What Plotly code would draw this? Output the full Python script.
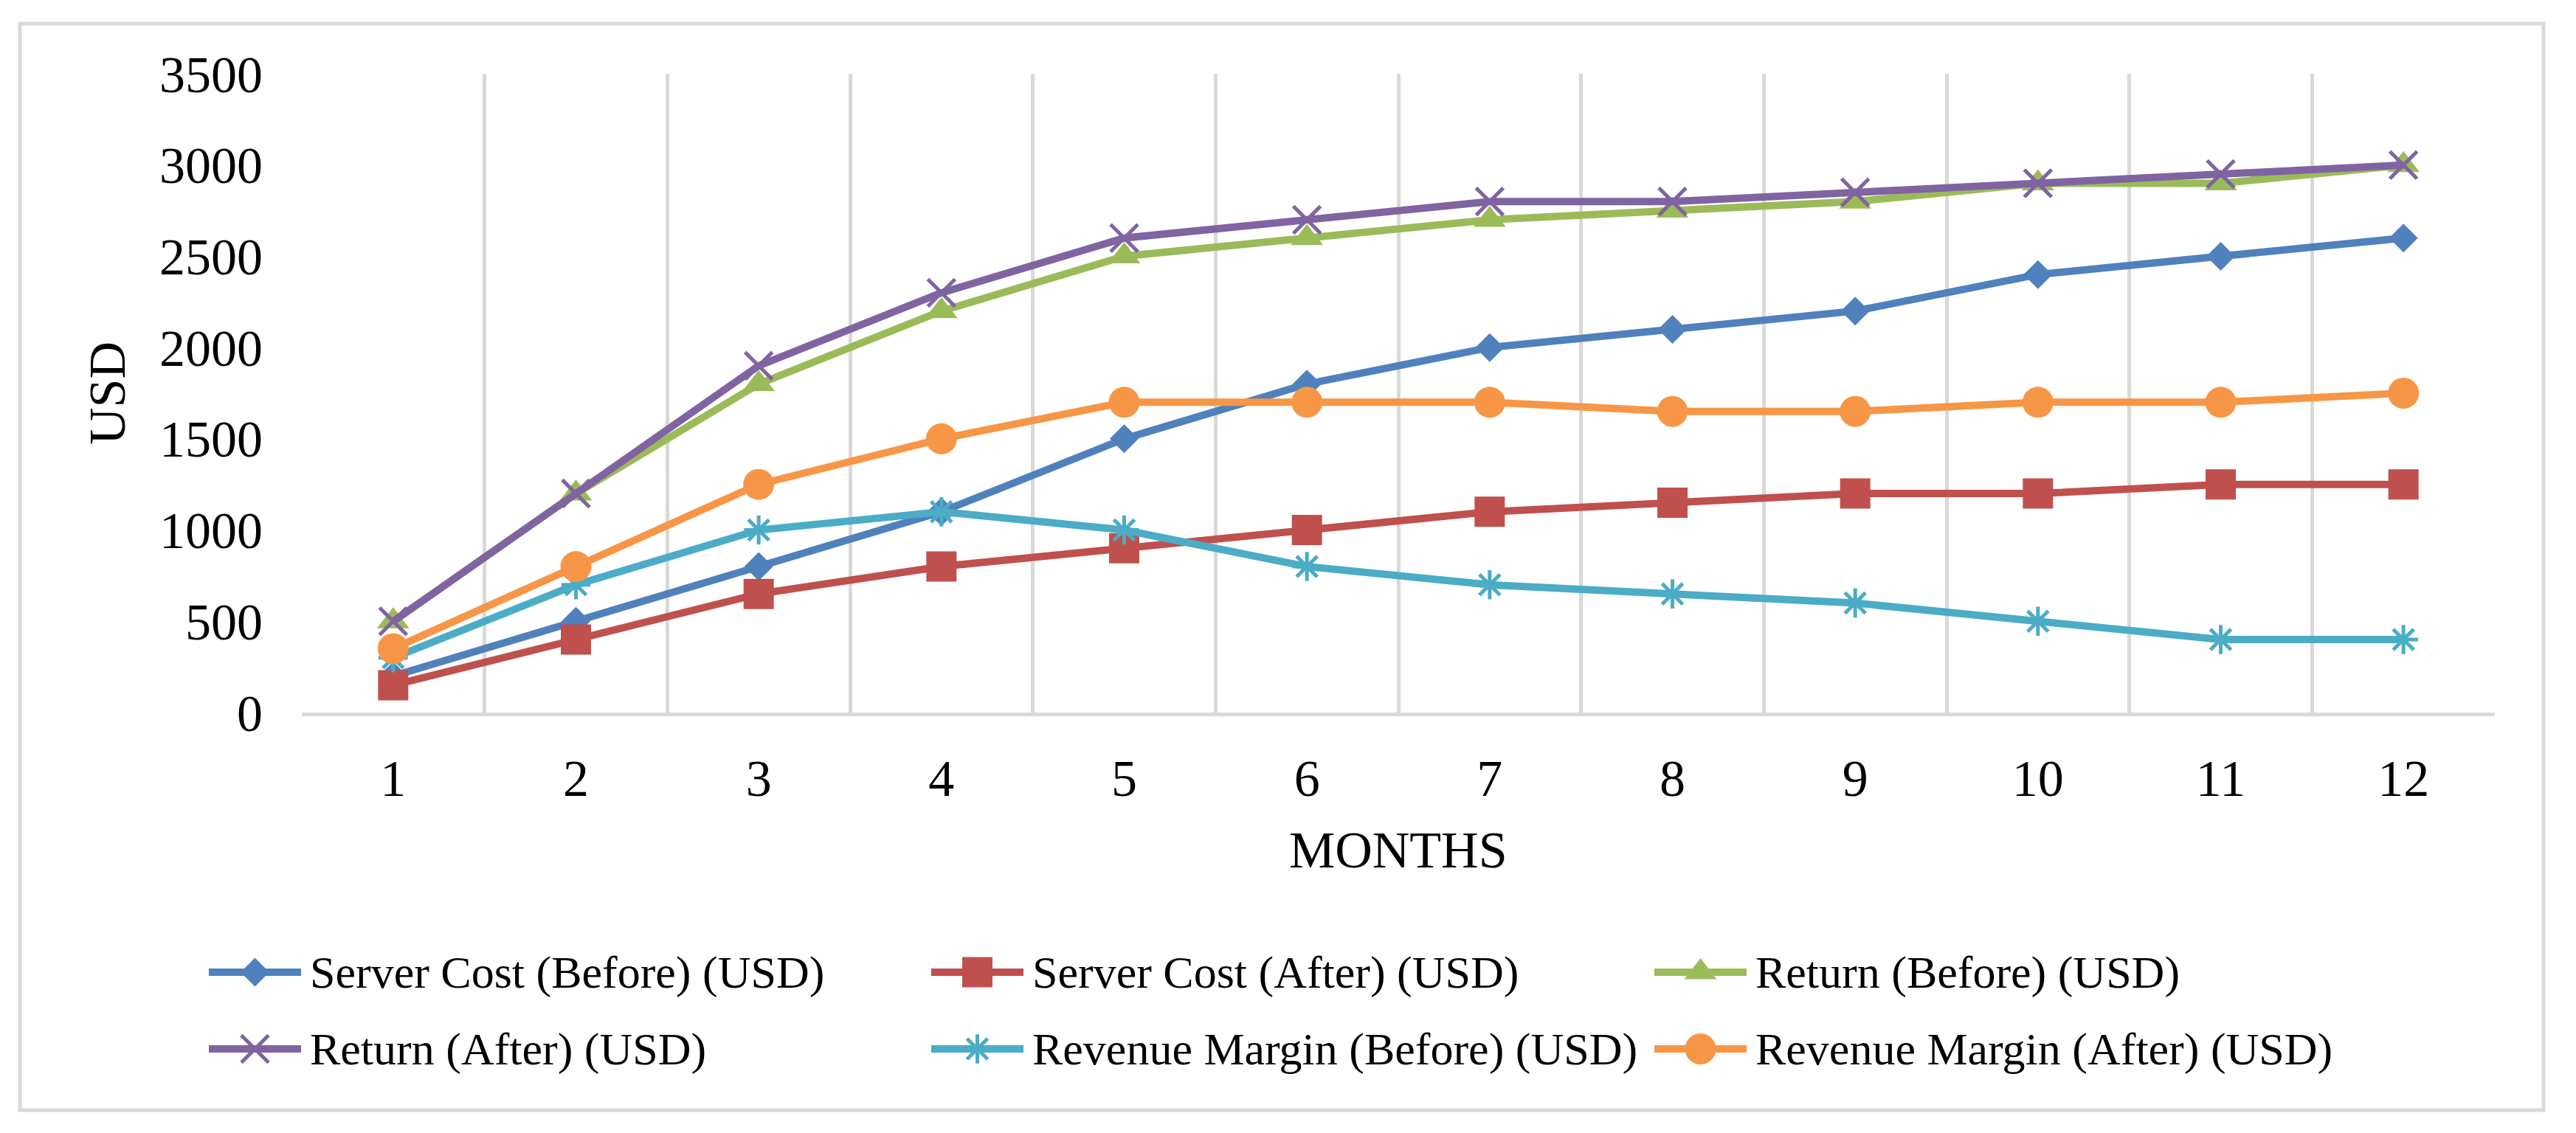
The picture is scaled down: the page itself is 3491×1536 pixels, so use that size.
import plotly.graph_objects as go

# ---------------- data ----------------
months = [1, 2, 3, 4, 5, 6, 7, 8, 9, 10, 11, 12]
month_labels = [str(m) for m in months]
server_cost_before = [200, 500, 800, 1100, 1500, 1800, 2000, 2100, 2200, 2400, 2500, 2600]
server_cost_after = [150, 400, 650, 800, 900, 1000, 1100, 1150, 1200, 1200, 1250, 1250]
return_before = [500, 1200, 1800, 2200, 2500, 2600, 2700, 2750, 2800, 2900, 2900, 3000]
return_after = [500, 1200, 1900, 2300, 2600, 2700, 2800, 2800, 2850, 2900, 2950, 3000]
revenue_margin_before = [300, 700, 1000, 1100, 1000, 800, 700, 650, 600, 500, 400, 400]
revenue_margin_after = [350, 800, 1250, 1500, 1700, 1700, 1700, 1650, 1650, 1700, 1700, 1750]
y_tick_values = [0, 500, 1000, 1500, 2000, 2500, 3000, 3500]
series_names = [
    "Server Cost (Before) (USD)",
    "Server Cost (After) (USD)",
    "Return (Before) (USD)",
    "Return (After) (USD)",
    "Revenue Margin (Before) (USD)",
    "Revenue Margin (After) (USD)",
]
series_values = [server_cost_before, server_cost_after, return_before,
                 return_after, revenue_margin_before, revenue_margin_after]

# ---------------- styles / layout constants ----------------
W, H = 3491, 1536
OFF = 8                                        # page body margin in the browser
PL, PR, PT, PB = 409, 3381, 100, 966          # plot area in page pixels
FONT = "Liberation Serif, Times New Roman, serif"
GRID = "#d9d9d9"
LINE_W = 10
styles = [
    dict(color="#4F81BD", symbol="diamond", size=30, mlw=0),
    dict(color="#C0504D", symbol="square", size=41, mlw=0),
    dict(color="#9BBB59", symbol="triangle-up", size=38, mlw=0),
    dict(color="#8064A2", symbol="x-thin-open", size=37, mlw=5),
    dict(color="#4BACC6", symbol="asterisk-open", size=33, mlw=5),
    dict(color="#F79646", symbol="circle", size=42, mlw=0),
]
# legend grid (page pixels)
LEG_COLS = [283, 1262, 2242]
LEG_ROWS = [1318, 1422]
LEG_LINE = 125
LEG_FONT = 62


def px_x(x):
    return (x - OFF) / W


def px_y(y):
    return 1 - (y - OFF) / H


fig = go.Figure()

for name, vals, st in zip(series_names, series_values, styles):
    fig.add_trace(go.Scatter(
        x=months, y=vals, name=name, mode="lines+markers",
        line=dict(color=st["color"], width=LINE_W),
        marker=dict(symbol=st["symbol"], size=st["size"], color=st["color"],
                    line=dict(color=st["color"], width=st["mlw"])),
        showlegend=False, xaxis="x", yaxis="y",
    ))

# custom legend drawn on a pixel-space overlay axis
annotations = []
for i, (name, st) in enumerate(zip(series_names, styles)):
    row, col = divmod(i, 3)
    x0 = LEG_COLS[col]
    yc = LEG_ROWS[row]
    fig.add_trace(go.Scatter(
        x=[x0, x0 + LEG_LINE], y=[yc, yc], mode="lines",
        line=dict(color=st["color"], width=LINE_W),
        xaxis="x2", yaxis="y2", showlegend=False, hoverinfo="skip"))
    fig.add_trace(go.Scatter(
        x=[x0 + LEG_LINE / 2], y=[yc], mode="markers",
        marker=dict(symbol=st["symbol"], size=st["size"], color=st["color"],
                    line=dict(color=st["color"], width=st["mlw"])),
        xaxis="x2", yaxis="y2", showlegend=False, hoverinfo="skip"))
    annotations.append(dict(
        x=x0 + LEG_LINE + 10, y=yc, xref="x2", yref="y2",
        text=name, showarrow=False, xanchor="left", yanchor="middle",
        font=dict(family=FONT, size=LEG_FONT, color="black")))

# axis titles
annotations.append(dict(
    x=px_x((PL + PR) / 2), y=px_y(1152), xref="paper", yref="paper",
    text="MONTHS", showarrow=False, xanchor="center", yanchor="middle",
    font=dict(family=FONT, size=70, color="black")))
annotations.append(dict(
    x=px_x(145), y=px_y((PT + PB) / 2), xref="paper", yref="paper",
    text="USD", textangle=-90, showarrow=False, xanchor="center", yanchor="middle",
    font=dict(family=FONT, size=70, color="black")))

fig.update_layout(
    template="none",
    width=W, height=H,
    margin=dict(l=0, r=0, t=0, b=0, pad=0, autoexpand=False),
    paper_bgcolor="white", plot_bgcolor="rgba(0,0,0,0)",
    showlegend=False,
    annotations=annotations,
    shapes=[dict(type="rect", xref="paper", yref="paper",
                 x0=px_x(27), x1=px_x(3447), y0=px_y(1505), y1=px_y(32),
                 line=dict(color=GRID, width=5), fillcolor="rgba(0,0,0,0)", layer="below")],
    xaxis=dict(
        domain=[px_x(PL), px_x(PR)], range=[0.5, 12.5], automargin=False,
        tickmode="array", tickvals=months, ticktext=month_labels,
        ticks="", showgrid=False, zeroline=False,
        showline=True, linecolor=GRID, linewidth=5,
        minor=dict(tickmode="linear", tick0=0.5, dtick=1, showgrid=True,
                   gridcolor=GRID, gridwidth=5, ticks=""),
        tickfont=dict(family=FONT, size=70, color="black"),
        ticklabelstandoff=24, fixedrange=True, anchor="y",
    ),
    yaxis=dict(
        domain=[px_y(PB), px_y(PT)], range=[0, 3500], automargin=False,
        tickmode="array", tickvals=y_tick_values,
        ticktext=[str(v) for v in y_tick_values],
        ticks="", showgrid=False, zeroline=False, showline=False,
        tickfont=dict(family=FONT, size=70, color="black"),
        ticklabelstandoff=52, fixedrange=True, anchor="x",
    ),
    xaxis2=dict(domain=[0, 1], range=[OFF, W + OFF], visible=False, anchor="y2",
                fixedrange=True, automargin=False),
    yaxis2=dict(domain=[0, 1], range=[H + OFF, OFF], visible=False, anchor="x2",
                fixedrange=True, automargin=False),
)

fig.write_html("out.html")
